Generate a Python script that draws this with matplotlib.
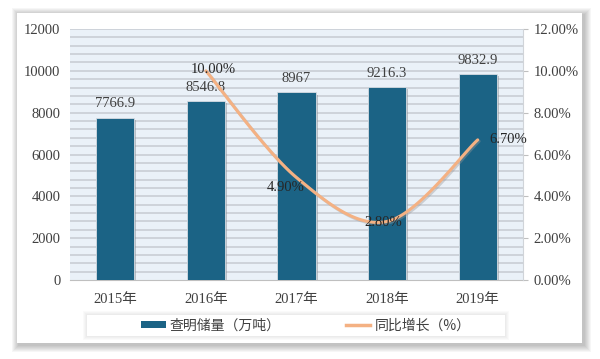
import numpy as np
import matplotlib
matplotlib.use("Agg")
import matplotlib.pyplot as plt
from matplotlib.patches import Rectangle
from matplotlib.lines import Line2D
from matplotlib.patches import Patch
import matplotlib.patheffects as pe

plt.rcParams['font.family'] = ['Liberation Serif', 'Noto Sans CJK SC', 'DejaVu Sans']

years = ['2015年', '2016年', '2017年', '2018年', '2019年']
reserves = [7766.9, 8546.8, 8967, 9216.3, 9832.9]
reserve_labels = ['7766.9', '8546.8', '8967', '9216.3', '9832.9']
growth_years_idx = [1, 2, 3, 4]
growth = [10.00, 4.90, 2.80, 6.70]
left_ticks = [0, 2000, 4000, 6000, 8000, 10000, 12000]
right_ticks = [0, 2, 4, 6, 8, 10, 12]

bar_color = '#1B6385'
line_color = '#F4B183'
text_color = '#404040'

W, H = 600, 359
fig = plt.figure(figsize=(6, 3.59), dpi=100)
fig.patch.set_facecolor('white')

# card with soft shadow
cx0, cy0, cx1, cy1 = 17, 13, 582, 343
for d in range(7, 0, -1):
    fig.patches.append(Rectangle(((cx0 - d + 2) / W, 1 - (cy1 + d + 2) / H),
                                 (cx1 - cx0 + 2 * d) / W, (cy1 - cy0 + 2 * d) / H,
                                 transform=fig.transFigure, facecolor='black',
                                 alpha=0.035, edgecolor='none', zorder=0))
fig.patches.append(Rectangle((cx0 / W, 1 - cy1 / H), (cx1 - cx0) / W, (cy1 - cy0) / H,
                             transform=fig.transFigure, facecolor='white',
                             edgecolor='none', zorder=1))

px0, py0, px1, py1 = 70, 29, 523, 280
ax = fig.add_axes([px0 / W, 1 - py1 / H, (px1 - px0) / W, (py1 - py0) / H], zorder=2)
ax.set_facecolor('#EAF1F8')
x = np.arange(len(years))
ax.set_xlim(-0.5, len(years) - 0.5)
ax.set_ylim(0, 12000)
for gy in range(400, 12001, 400):
    ax.axhline(gy, color='#C9CED4', lw=1.2, zorder=1)
bars = ax.bar(x, reserves, width=0.42, color=bar_color, zorder=3,
              edgecolor='#D6DCE2', linewidth=0.6)
for b in bars:
    b.set_path_effects([pe.SimplePatchShadow(offset=(1.5, -1.5), shadow_rgbFace='#8A8F96', alpha=0.5), pe.Normal()])
for xi, v, lab in zip(x, reserves, reserve_labels):
    ax.annotate(lab, (xi, v), xytext=(0, 10), textcoords='offset points', ha='center', va='center',
                fontsize=10.5, color=text_color, zorder=6)

ax.set_xticks(x)
ax.set_xticklabels(years, fontsize=10.5, color=text_color)
ax.set_yticks(left_ticks)
ax.set_yticklabels([str(t) for t in left_ticks], fontsize=10.5, color=text_color)
ax.tick_params(axis='y', length=0, pad=7)
ax.tick_params(axis='x', length=0, pad=9)
for s in ['top', 'right', 'left']:
    ax.spines[s].set_visible(False)
ax.spines['bottom'].set_color('#BFBFBF')

ax2 = ax.twinx()
ax2.set_ylim(0, 12)
ax2.set_yticks(right_ticks)
ax2.set_yticklabels(['%.2f%%' % t for t in right_ticks], fontsize=10.5, color=text_color)
ax2.tick_params(axis='y', length=3.6, color='#BFBFBF', pad=4)
for s in ['top', 'left', 'bottom']:
    ax2.spines[s].set_visible(False)
ax2.spines['right'].set_color('#D0D4D9')
ax2.spines['right'].set_linewidth(0.8)

# smooth curve (Catmull-Rom Bezier) through the growth points
gx = np.array(growth_years_idx, dtype=float)
gy = np.array(growth, dtype=float)
P = np.column_stack([gx, gy])
Pe = np.vstack([P[0], P, P[-1]])
curve = []
t = np.linspace(0, 1, 40)
for i in range(len(P) - 1):
    p0, p1, p2, p3 = Pe[i], Pe[i + 1], Pe[i + 2], Pe[i + 3]
    c1 = p1 + (p2 - p0) / 6
    c2 = p2 - (p3 - p1) / 6
    seg = ((1 - t) ** 3)[:, None] * p1 + (3 * (1 - t) ** 2 * t)[:, None] * c1 + \
          (3 * (1 - t) * t ** 2)[:, None] * c2 + (t ** 3)[:, None] * p2
    curve.append(seg)
curve = np.vstack(curve)
ax2.plot(curve[:, 0], curve[:, 1], color=line_color, lw=2.2, zorder=4, solid_capstyle='round',
         path_effects=[pe.SimpleLineShadow(offset=(1, -1), shadow_color='#999999', alpha=0.4), pe.Normal()])

offsets = [(5, 1), (-8, -7), (-3, -1), (22, 0)]
for xi, v, off in zip(gx, gy, offsets):
    ax2.annotate('%.2f%%' % v, (xi, v), xytext=off, textcoords='offset points',
                 ha='center', va='center', fontsize=10.5, color='#262626', zorder=6)

# legend box
lx0, ly0, lx1, ly1 = 87, 315, 505, 336
for d in range(4, 0, -1):
    fig.patches.append(Rectangle(((lx0 - d) / W, 1 - (ly1 + d) / H), (lx1 - lx0 + 2 * d) / W,
                                 (ly1 - ly0 + 2 * d) / H, transform=fig.transFigure,
                                 facecolor='black', alpha=0.02, edgecolor='none', zorder=1.5))
fig.patches.append(Rectangle((lx0 / W, 1 - ly1 / H), (lx1 - lx0) / W, (ly1 - ly0) / H,
                             transform=fig.transFigure, facecolor='white', edgecolor='none', zorder=1.6))
handles = [Patch(facecolor=bar_color, edgecolor='none'),
           Line2D([0], [0], color=line_color, lw=2.5)]
fig.legend(handles, ['查明储量（万吨）', '同比增长（%）'], loc='center',
           bbox_to_anchor=(306 / W, 1 - (ly0 + ly1) / 2 / H), ncol=2, frameon=False,
           prop={'family': ['Noto Sans CJK SC'], 'size': 10}, labelcolor=text_color,
           handlelength=1.75, handleheight=0.45, columnspacing=4.7, handletextpad=0.3)

fig.savefig('out.png', dpi=100, facecolor='white')
